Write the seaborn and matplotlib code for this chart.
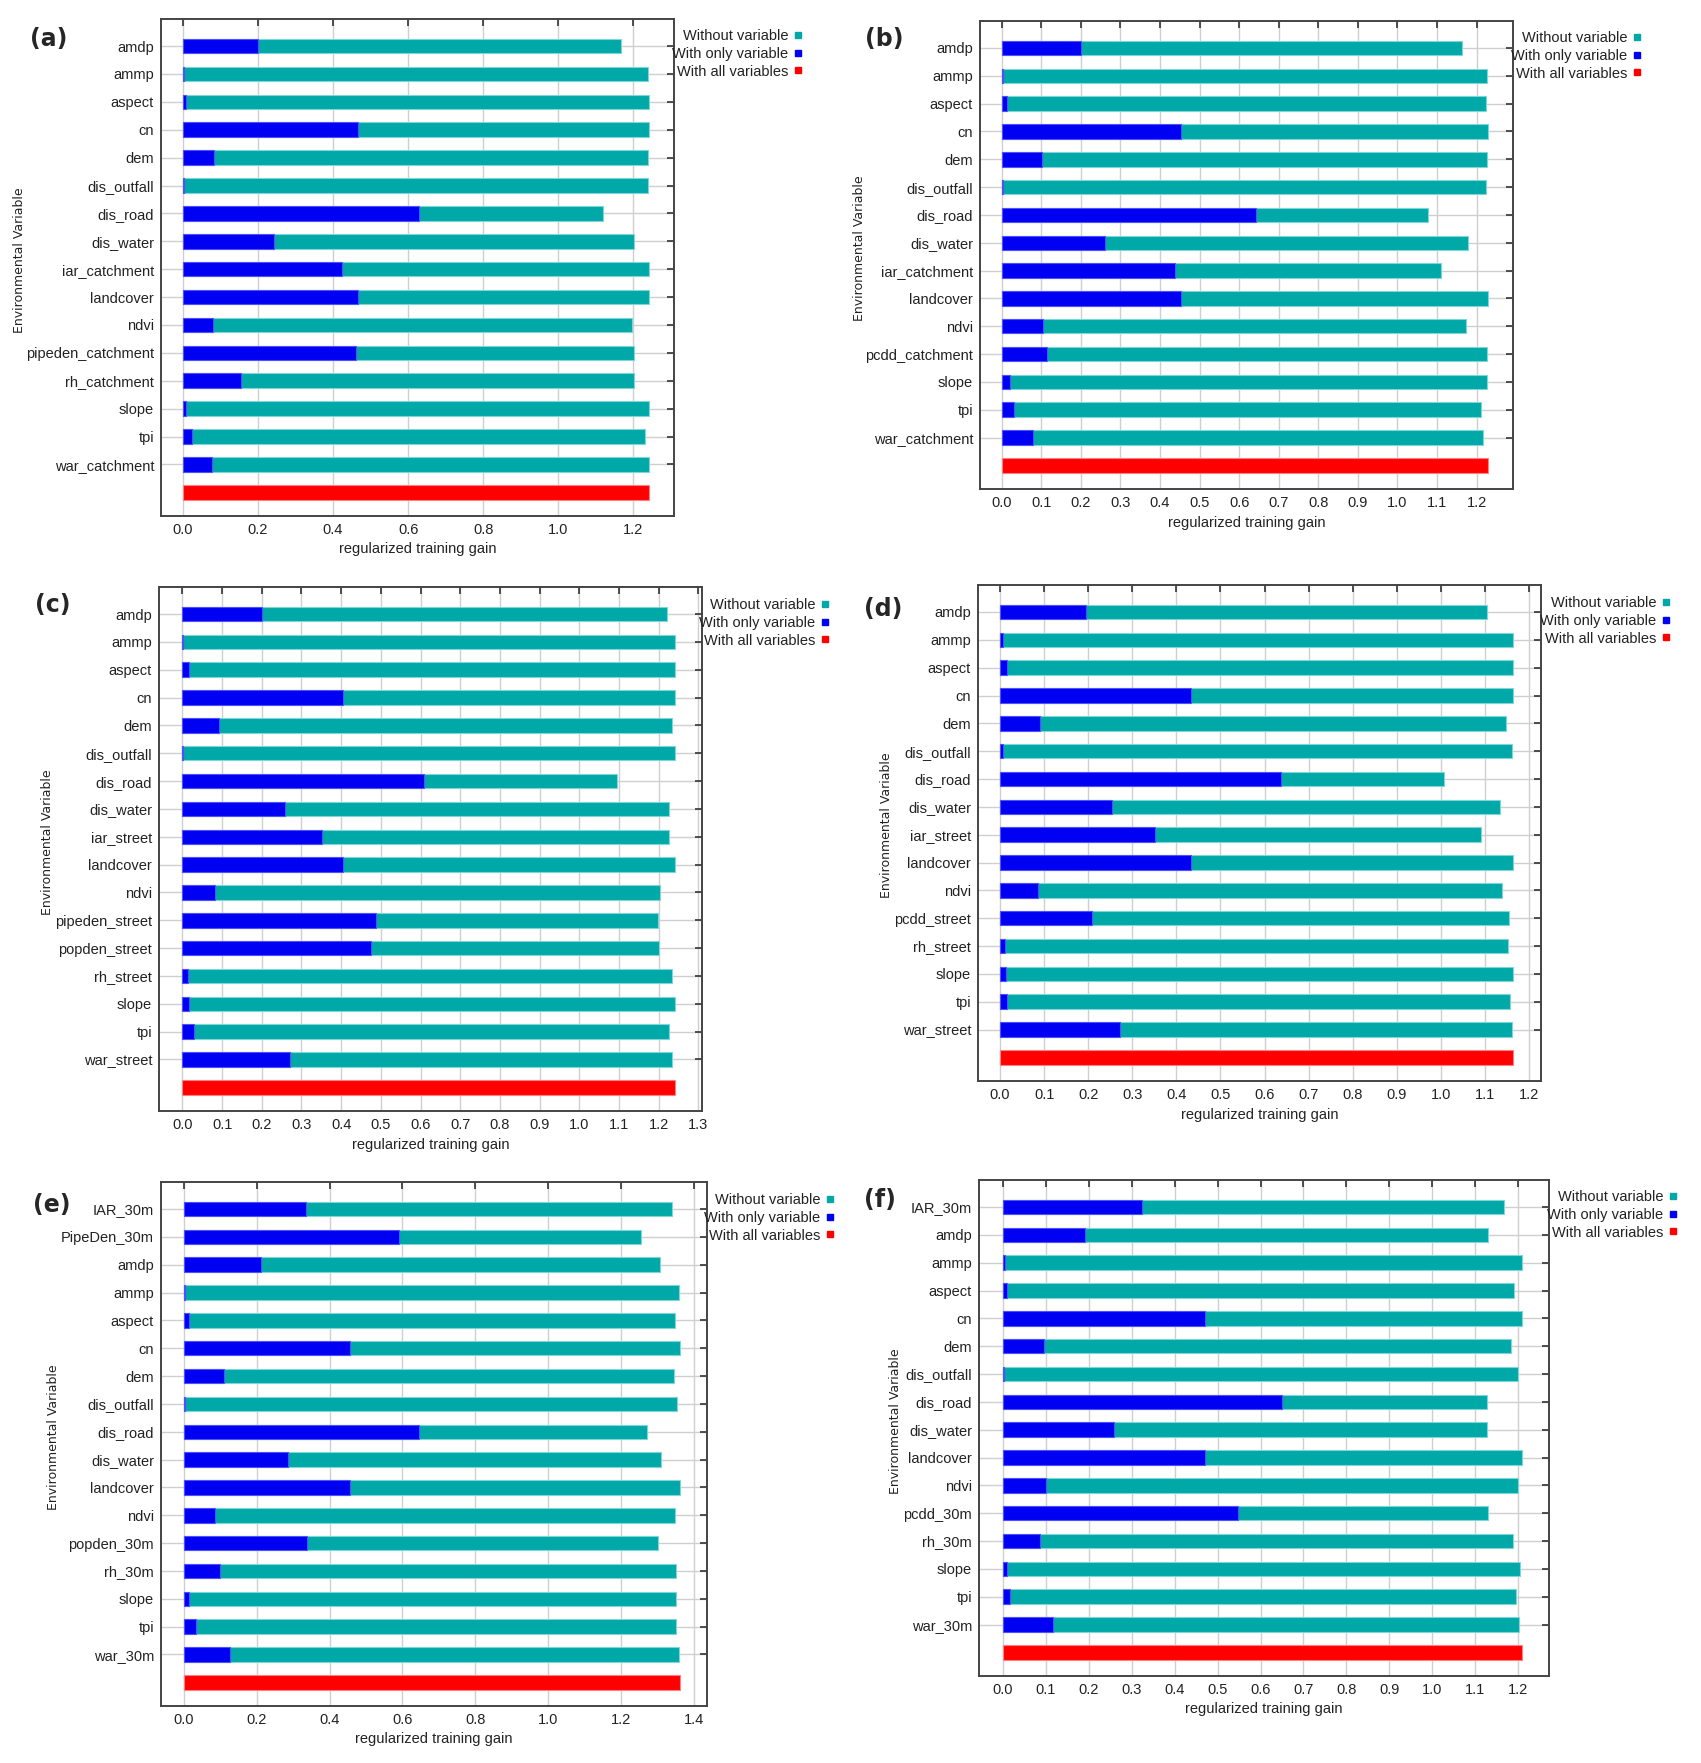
import numpy as np
import pandas as pd
import seaborn as sns
import matplotlib.pyplot as plt
from matplotlib.lines import Line2D

W, H = 1701, 1763

# ---------------- data ----------------
vars_a = ['amdp', 'ammp', 'aspect', 'cn', 'dem', 'dis_outfall', 'dis_road', 'dis_water',
          'iar_catchment', 'landcover', 'ndvi', 'pipeden_catchment', 'rh_catchment',
          'slope', 'tpi', 'war_catchment']
without_a = [1.168, 1.239, 1.242, 1.242, 1.239, 1.239, 1.118, 1.201, 1.242, 1.242, 1.196,
             1.201, 1.201, 1.242, 1.230, 1.242]
only_a = [0.200, 0.002, 0.009, 0.466, 0.084, 0.002, 0.630, 0.243, 0.424, 0.466, 0.081,
          0.461, 0.156, 0.009, 0.025, 0.077]
all_a = 1.242

vars_b = ['amdp', 'ammp', 'aspect', 'cn', 'dem', 'dis_outfall', 'dis_road', 'dis_water',
          'iar_catchment', 'landcover', 'ndvi', 'pcdd_catchment', 'slope', 'tpi',
          'war_catchment']
without_b = [1.162, 1.226, 1.223, 1.229, 1.226, 1.223, 1.077, 1.179, 1.109, 1.229, 1.174,
             1.226, 1.226, 1.210, 1.216]
only_b = [0.199, 0.002, 0.014, 0.454, 0.101, 0.002, 0.643, 0.261, 0.439, 0.454, 0.104,
          0.114, 0.021, 0.032, 0.078]
all_b = 1.229

vars_c = ['amdp', 'ammp', 'aspect', 'cn', 'dem', 'dis_outfall', 'dis_road', 'dis_water',
          'iar_street', 'landcover', 'ndvi', 'pipeden_street', 'popden_street', 'rh_street',
          'slope', 'tpi', 'war_street']
without_c = [1.220, 1.242, 1.240, 1.242, 1.234, 1.240, 1.096, 1.225, 1.225, 1.242, 1.204,
             1.199, 1.201, 1.234, 1.242, 1.227, 1.234]
only_c = [0.201, 0.002, 0.016, 0.405, 0.093, 0.002, 0.609, 0.259, 0.352, 0.405, 0.082,
          0.487, 0.475, 0.014, 0.016, 0.029, 0.270]
all_c = 1.242

vars_d = ['amdp', 'ammp', 'aspect', 'cn', 'dem', 'dis_outfall', 'dis_road', 'dis_water',
          'iar_street', 'landcover', 'ndvi', 'pcdd_street', 'rh_street', 'slope', 'tpi',
          'war_street']
without_d = [1.105, 1.164, 1.164, 1.164, 1.147, 1.162, 1.007, 1.134, 1.092, 1.164, 1.138,
             1.154, 1.152, 1.164, 1.157, 1.161]
only_d = [0.196, 0.006, 0.016, 0.432, 0.090, 0.006, 0.638, 0.254, 0.351, 0.432, 0.085,
          0.208, 0.011, 0.014, 0.016, 0.271]
all_d = 1.164

vars_e = ['IAR_30m', 'PipeDen_30m', 'amdp', 'ammp', 'aspect', 'cn', 'dem', 'dis_outfall',
          'dis_road', 'dis_water', 'landcover', 'ndvi', 'popden_30m', 'rh_30m', 'slope',
          'tpi', 'war_30m']
without_e = [1.340, 1.257, 1.308, 1.361, 1.349, 1.364, 1.346, 1.355, 1.272, 1.311, 1.364,
             1.349, 1.302, 1.352, 1.352, 1.352, 1.361]
only_e = [0.334, 0.590, 0.213, 0.002, 0.013, 0.457, 0.110, 0.002, 0.646, 0.286, 0.457,
          0.085, 0.337, 0.098, 0.015, 0.034, 0.127]
all_e = 1.364

vars_f = ['IAR_30m', 'amdp', 'ammp', 'aspect', 'cn', 'dem', 'dis_outfall', 'dis_road',
          'dis_water', 'landcover', 'ndvi', 'pcdd_30m', 'rh_30m', 'slope', 'tpi', 'war_30m']
without_f = [1.168, 1.129, 1.208, 1.191, 1.208, 1.184, 1.199, 1.127, 1.127, 1.208, 1.199,
             1.129, 1.189, 1.205, 1.194, 1.203]
only_f = [0.323, 0.191, 0.005, 0.010, 0.471, 0.096, 0.002, 0.649, 0.258, 0.471, 0.100,
          0.548, 0.086, 0.010, 0.016, 0.117]
all_f = 1.208

legend_labels = ['Without variable', 'With only variable', 'With all variables']

TEAL = '#00A8A8'
BLUE = '#0000F2'
RED = '#FF0000'

# ---------------- layout (pixels of the 1701x1763 canvas) ----------------
layout = {
    'a': dict(box=(161, 674, 19, 516), xlim=(-0.058, 1.308), xmax=1.2, step=0.2,
              ylab=(26, 260), tag=(30, 39), leg=(810, 22)),
    'b': dict(box=(980, 1513, 21, 489), xlim=(-0.055, 1.292), xmax=1.2, step=0.1,
              ylab=(866, 248), tag=(865, 39), leg=(1649, 24)),
    'c': dict(box=(159, 702, 587, 1111), xlim=(-0.059, 1.309), xmax=1.3, step=0.1,
              ylab=(54, 842), tag=(35, 605), leg=(837, 591)),
    'd': dict(box=(978, 1541, 585, 1081), xlim=(-0.050, 1.227), xmax=1.2, step=0.1,
              ylab=(893, 825), tag=(864, 609), leg=(1678, 589)),
    'e': dict(box=(161, 707, 1182, 1706), xlim=(-0.063, 1.437), xmax=1.4, step=0.2,
              ylab=(60, 1437), tag=(33, 1205), leg=(842, 1186)),
    'f': dict(box=(979, 1549, 1180, 1676), xlim=(-0.056, 1.272), xmax=1.2, step=0.1,
              ylab=(902, 1421), tag=(864, 1200), leg=(1685, 1183)),
}

panels = {
    'a': (vars_a, without_a, only_a, all_a),
    'b': (vars_b, without_b, only_b, all_b),
    'c': (vars_c, without_c, only_c, all_c),
    'd': (vars_d, without_d, only_d, all_d),
    'e': (vars_e, without_e, only_e, all_e),
    'f': (vars_f, without_f, only_f, all_f),
}

sns.set_style('white')
plt.rcParams['font.family'] = ['Liberation Sans', 'DejaVu Sans']
FS = 10.5

fig = plt.figure(figsize=(W / 100, H / 100), dpi=100)

for key, (names, without, only, allv) in panels.items():
    lay = layout[key]
    l, r, t, b = lay['box']
    ax = fig.add_axes([l / W, 1 - b / H, (r - l) / W, (b - t) / H])

    order = names + ['']
    df_w = pd.DataFrame({'var': names, 'gain': without})
    df_o = pd.DataFrame({'var': names, 'gain': only})
    df_all = pd.DataFrame({'var': [''], 'gain': [allv]})

    sns.barplot(data=df_w, x='gain', y='var', order=order, orient='h', color=TEAL,
                saturation=1, width=0.52, edgecolor='#7FD6D6', linewidth=0.8, ax=ax, zorder=3)
    sns.barplot(data=df_o, x='gain', y='var', order=order, orient='h', color=BLUE,
                saturation=1, width=0.52, edgecolor='#5050FF', linewidth=0.8, ax=ax, zorder=4)
    sns.barplot(data=df_all, x='gain', y='var', order=order, orient='h', color=RED,
                saturation=1, width=0.52, edgecolor='#FF8080', linewidth=0.8, ax=ax, zorder=3)

    n = len(names)
    ax.set_yticks(range(n))
    ax.set_yticklabels(names, fontsize=FS, color='#222222')
    ax.set_ylim(n + 0.85, -0.97)

    xt = np.round(np.arange(0, lay['xmax'] + 1e-9, lay['step']), 1)
    ax.set_xticks(xt)
    ax.set_xticklabels([f'{v:.1f}' for v in xt], fontsize=FS, color='#222222')
    ax.set_xlim(*lay['xlim'])

    ax.grid(True, color='#CFCFCF', linewidth=1.0, zorder=0)
    ax.set_axisbelow(True)
    ax.tick_params(direction='in', length=5, width=1.2, color='#333333',
                   top=True, right=True, pad=5)
    for s in ax.spines.values():
        s.set_visible(True)
        s.set_color('#444444')
        s.set_linewidth(1.4)

    ax.set_xlabel('regularized training gain', fontsize=FS, color='#222222', labelpad=4)
    ax.set_ylabel('Environmental Variable', fontsize=9, color='#222222',
                  family=['DejaVu Sans'])
    yx, yy = lay['ylab']
    ax.yaxis.set_label_coords((yx - l) / (r - l), (b - yy) / (b - t))

    tx, ty = lay['tag']
    fig.text(tx / W, 1 - ty / H, f'({key})', fontsize=17, fontweight='bold',
             family=['DejaVu Sans'], ha='left', va='center')

    handles = [Line2D([], [], marker='s', ls='none', color=c, markersize=5)
               for c in (TEAL, BLUE, RED)]
    lx, ly = lay['leg']
    ax.legend(handles, legend_labels, loc='upper right',
              bbox_to_anchor=(lx / W, 1 - ly / H), bbox_transform=fig.transFigure,
              markerfirst=False, frameon=False, borderpad=0, handletextpad=0.4,
              handlelength=0.6, labelspacing=0.25, fontsize=FS, labelcolor='#222222')

fig.savefig('out.png', dpi=100, facecolor='white')
